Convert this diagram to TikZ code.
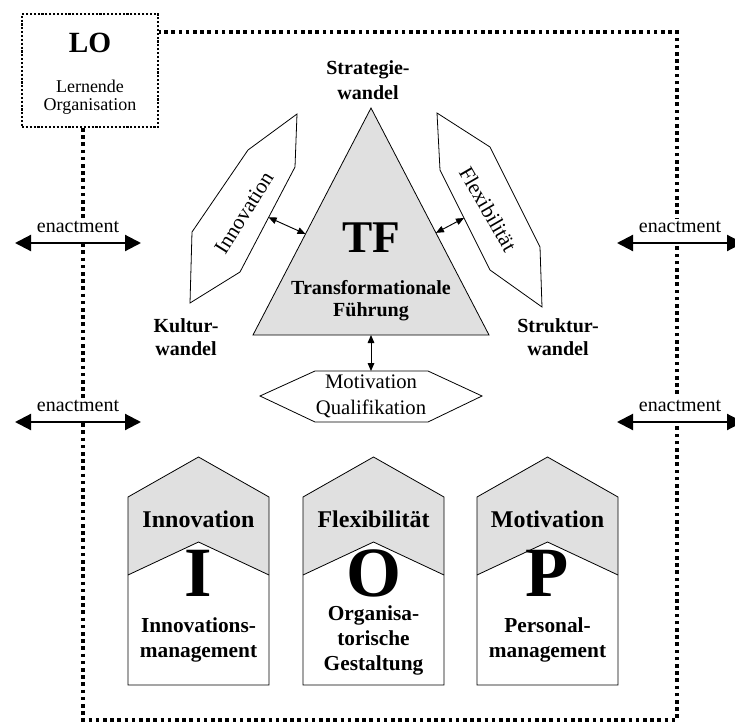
\documentclass[tikz,border=0pt]{standalone}
\usepackage{fontspec}
\setmainfont{Liberation Serif}
\usetikzlibrary{arrows.meta}
\definecolor{fillgrey}{RGB}{224,224,224}
\newcommand{\fsz}[2]{\fontsize{#1}{#2}\selectfont}

\tikzset{
  bigframe/.style={line width=2.6pt, dash pattern=on 2.6pt off 2.8pt},
  loframe/.style={draw, line width=1.6pt, dash pattern=on 1.6pt off 1.3pt,
    minimum width=102pt, minimum height=84.75pt, inner sep=0pt},
  enact/.style={line width=1.6pt, {Triangle[length=12pt,width=12pt]}-{Triangle[length=12pt,width=12pt]}},
  enactlabel/.style={fill=white, inner xsep=2pt, inner ysep=1pt, text depth=7pt, anchor=base, font=\fsz{15}{15}},
  link/.style={line width=0.7pt, {Triangle[length=6pt,width=5pt]}-{Triangle[length=6pt,width=5pt]}},
  outline/.style={draw, line width=0.6pt},
  txt/.style={inner sep=0pt, align=center},
  boldtxt/.style={txt, font=\bfseries\fsz{15}{17}},
}

\begin{document}
\begin{tikzpicture}[x=0.75pt, y=-0.75pt]
\useasboundingbox (0,0) rectangle (735,724);

% LO box and outer frame
\node[loframe] (lo) at (90,70.5) {};
\node[txt, font=\bfseries\fsz{22}{24}] (lotitle) at (90,43) {LO};
\node[txt, font=\fsz{13.5}{13.5}] (loname) at (90,97) {Lernende\\Organisation};
\coordinate (fNE) at (677,32);
\coordinate (fSW) at (83,720);
\coordinate (fSE) at (677,720);
\draw[bigframe] (lo.south -| fSW) -- (fSW) -- (fSE) -- (fNE) -- (fNE -| lo.east);

% enactment arrows
\foreach \ex in {78,680}
  \foreach \ey in {243,422} {
    \coordinate (ea) at (\ex-63,\ey);
    \coordinate (eb) at (\ex+63,\ey);
    \node[enactlabel] at (\ex,\ey-11) {enactment};
    \draw[enact] (ea) -- (eb);
  }

% triangle TF
\coordinate (tA) at (371,108);
\coordinate (tL) at (253,335);
\coordinate (tR) at (489,335);
\draw[outline, fill=fillgrey] (tA) -- (tL) -- (tR) -- cycle;
\path (tA) -- (tL) coordinate[pos=0.555] (tfL);
\path (tA) -- (tR) coordinate[pos=0.55] (tfR);
\node[txt, font=\bfseries\fsz{34}{34}] (tf) at (371,238) {TF};
\node[txt, font=\bfseries\fsz{15}{16.5}] (tfname) at (371,301) {Transformationale\\Führung};

% side shapes
\draw[outline] (297,114) -- (248,150) -- (192,232) -- (190,303)
  -- (240,272) coordinate (iB) -- (295,167) coordinate (iC) -- cycle;
\draw[outline] (437,113) -- (490,147) -- (540,247) -- (542,307)
  -- (490,270) coordinate (fB) -- (440,170) coordinate (fC) -- cycle;
\path (iB) -- (iC) coordinate[pos=0.52] (iE);
\path (fC) -- (fB) coordinate[pos=0.48] (fE);
\node[txt, font=\fsz{16}{16}, rotate=58] (inno) at (244,213) {Innovation};
\node[txt, font=\fsz{16}{16}, rotate=-60] (flex) at (488,209) {Flexibilität};
\draw[link] (iE) -- (tfL);
\draw[link] (fE) -- (tfR);

% corner labels
\node[txt, font=\bfseries\fsz{15}{18.75}] (strat) at (368,80.5) {Strategie-\\wandel};
\node[boldtxt] (kult) at (186,337) {Kultur-\\wandel};
\node[boldtxt] (strukt) at (558,337) {Struktur-\\wandel};

% hexagon
\draw[outline] (260,396) -- (315,371) -- (371,371) coordinate (hN) -- (428,371)
  -- (482,396) -- (428,422) -- (315,422) -- cycle;
\node[txt, font=\fsz{15.5}{19.5}] (motq) at (371,396) {Motivation\\Qualifikation};
\draw[link] (tL -| tA) -- (hN);

% I O P houses
\foreach \xl/\head/\ch/\body [count=\i] in {128/Innovation/I/{Innovations-\\management},
    303/Flexibilität/O/{Organisa-\\torische\\Gestaltung}, 477/Motivation/P/{Personal-\\management}} {
  \pgfmathsetmacro\xr{\xl+141}
  \pgfmathsetmacro\xc{\xl+70.5}
  \fill[fillgrey] (\xl,575) -- (\xl,497) -- (\xc,457) -- (\xr,497) -- (\xr,575) -- (\xc,542) -- cycle;
  \draw[outline] (\xl,685) -- (\xl,497) -- (\xc,457) -- (\xr,497) -- (\xr,685) -- cycle;
  \draw[line width=0.6pt] (\xl,575) -- (\xc,542) -- (\xr,575);
  \node[txt, font=\bfseries\fsz{18}{18}] (head\i) at (\xc,519) {\head};
  \node[txt, font=\bfseries\fsz{53}{53}] (big\i) at (\xc,573) {\ch};
  \node[txt, font=\bfseries\fsz{16}{18.75}] (body\i) at (\xc,640) {\body};
}
\end{tikzpicture}
\end{document}
